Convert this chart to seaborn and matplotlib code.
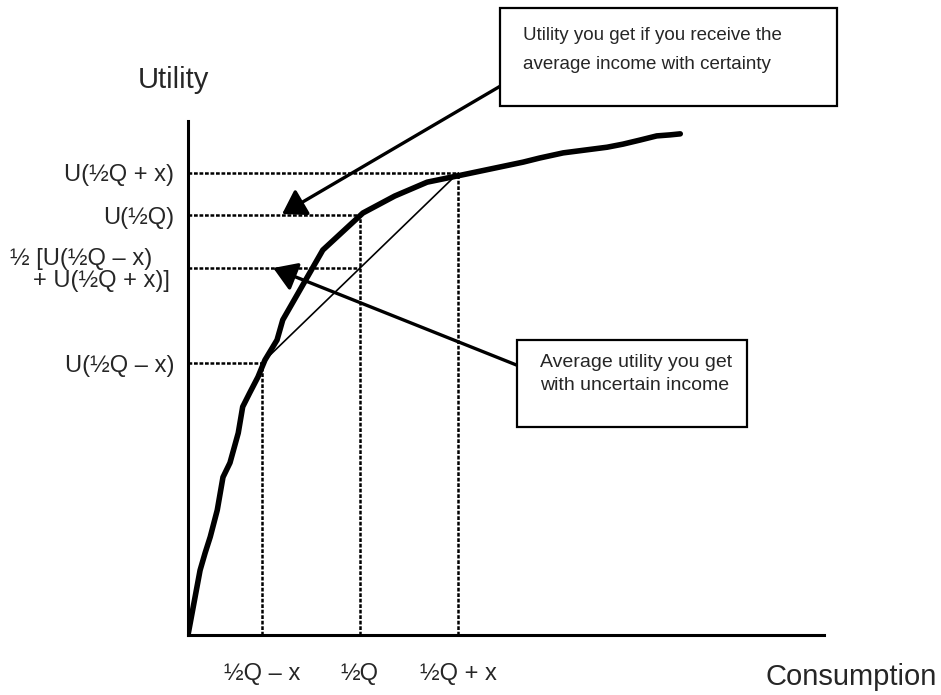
import matplotlib
matplotlib.use("Agg")
import matplotlib.pyplot as plt
from matplotlib.patches import Rectangle
import seaborn as sns
import pandas as pd

# Curva de utilidad (escala 0-100)
consumo = [0, 1.9, 2.7, 3.5, 4.6, 5.5, 6.6, 7.9, 8.6, 9.7, 11.0, 12.1, 14.0, 14.9,
           21.2, 27.5, 32.5, 37.6, 42.3, 52.7, 55.3, 59.0, 65.9, 68.4, 71.1, 73.7,
           75.8, 77.4]
utilidad = [0, 12.6, 16.0, 19.1, 24.3, 30.7, 33.5, 39.3, 44.4, 47.1, 50.2, 53.5, 57.4,
            61.3, 74.9, 82.1, 85.4, 88.1, 89.3, 92.0, 92.8, 93.8, 94.9, 95.5, 96.3,
            97.1, 97.3, 97.5]

# Puntos clave
x_bajo, x_medio, x_alto = 11.6, 27.0, 42.5
u_bajo, u_prom, u_medio, u_alto = 52.9, 71.4, 81.7, 89.9

x_etiquetas = ["½Q – x", "½Q", "½Q + x"]
y_etiquetas = ["U(½Q – x)", "U(½Q)", "U(½Q + x)"]
etiqueta_prom = ["½ [U(½Q – x)", "+ U(½Q + x)]"]

texto_caja1 = ["Utility you get if you receive the", "average income with certainty"]
texto_caja2 = ["Average utility you get", "with uncertain income"]

df = pd.DataFrame({"Consumo": consumo, "Utilidad": utilidad})

sns.set_style("white")
plt.rcParams["font.family"] = ["Liberation Sans", "DejaVu Sans"]

W, H = 941, 695
fig = plt.figure(figsize=(W / 100, H / 100), dpi=100)
ax = fig.add_axes([188 / W, (H - 635) / H, (824 - 188) / W, (635 - 121) / H])
ax.set_xlim(0, 100)
ax.set_ylim(0, 100)


def px(x, y):
    # pixeles de la imagen -> fraccion de figura
    return x / W, 1 - y / H


# lineas punteadas
punteo = dict(color="black", lw=1.8, linestyle=(0, (1.5, 0.7)))
ax.plot([0, x_alto], [u_alto, u_alto], **punteo)
ax.plot([0, x_medio], [u_medio, u_medio], **punteo)
ax.plot([0, x_medio], [u_prom, u_prom], **punteo)
ax.plot([0, x_bajo], [u_bajo, u_bajo], **punteo)
for xv, uv in [(x_bajo, u_bajo), (x_medio, u_medio), (x_alto, u_alto)]:
    ax.plot([xv, xv], [0, uv], **punteo)

# cuerda
ax.plot([x_bajo, x_alto], [u_bajo, u_alto], color="black", lw=1.2)

# curva
sns.lineplot(data=df, x="Consumo", y="Utilidad", ax=ax, color="black", lw=4,
             sort=False, solid_capstyle="round", solid_joinstyle="round")

# ejes
sns.despine(ax=ax)
for s in ["left", "bottom"]:
    ax.spines[s].set_linewidth(2.2)
    ax.spines[s].set_color("black")

ax.set_xticks([x_bajo, x_medio, x_alto])
ax.set_xticklabels(x_etiquetas, fontsize=17)
ax.set_yticks([u_bajo, u_medio, u_alto])
ax.set_yticklabels(y_etiquetas, fontsize=17)
ax.tick_params(axis="x", length=0, pad=20)
ax.tick_params(axis="y", length=0, pad=10)
ax.set_xlabel("")
ax.set_ylabel("")

fig.text(*px(10, 265), etiqueta_prom[0], ha="left", va="baseline", fontsize=17)
fig.text(*px(33, 287), etiqueta_prom[1], ha="left", va="baseline", fontsize=17)

fig.text(*px(138, 88), "Utility", ha="left", va="baseline", fontsize=21)
fig.text(*px(937, 685), "Consumption", ha="right", va="baseline", fontsize=21)

# flechas
flecha = dict(arrowstyle="-|>,head_length=0.5,head_width=0.32", lw=2.4,
              color="black", mutation_scale=28, shrinkA=0, shrinkB=0)
ax.annotate("", xy=(14.8, 81.9), xytext=(49.4, 107.0), arrowprops=flecha,
            annotation_clip=False)
ax.annotate("", xy=(13.4, 71.4), xytext=(51.7, 52.5), arrowprops=flecha,
            annotation_clip=False)

# cajas
fig.patches.append(Rectangle(px(500, 106), 337 / W, 98 / H,
                             transform=fig.transFigure, fc="white",
                             ec="black", lw=1.6))
fig.patches.append(Rectangle(px(517, 427), 230 / W, 87 / H,
                             transform=fig.transFigure, fc="white",
                             ec="black", lw=1.6, zorder=5))
fig.text(*px(523, 40), texto_caja1[0], ha="left", va="baseline", fontsize=13.5)
fig.text(*px(523, 69), texto_caja1[1], ha="left", va="baseline", fontsize=13.5)
fig.text(*px(540, 367), texto_caja2[0], ha="left", va="baseline", fontsize=14, zorder=6)
fig.text(*px(540, 390), texto_caja2[1], ha="left", va="baseline", fontsize=14, zorder=6)

fig.savefig("out.png", dpi=100)
